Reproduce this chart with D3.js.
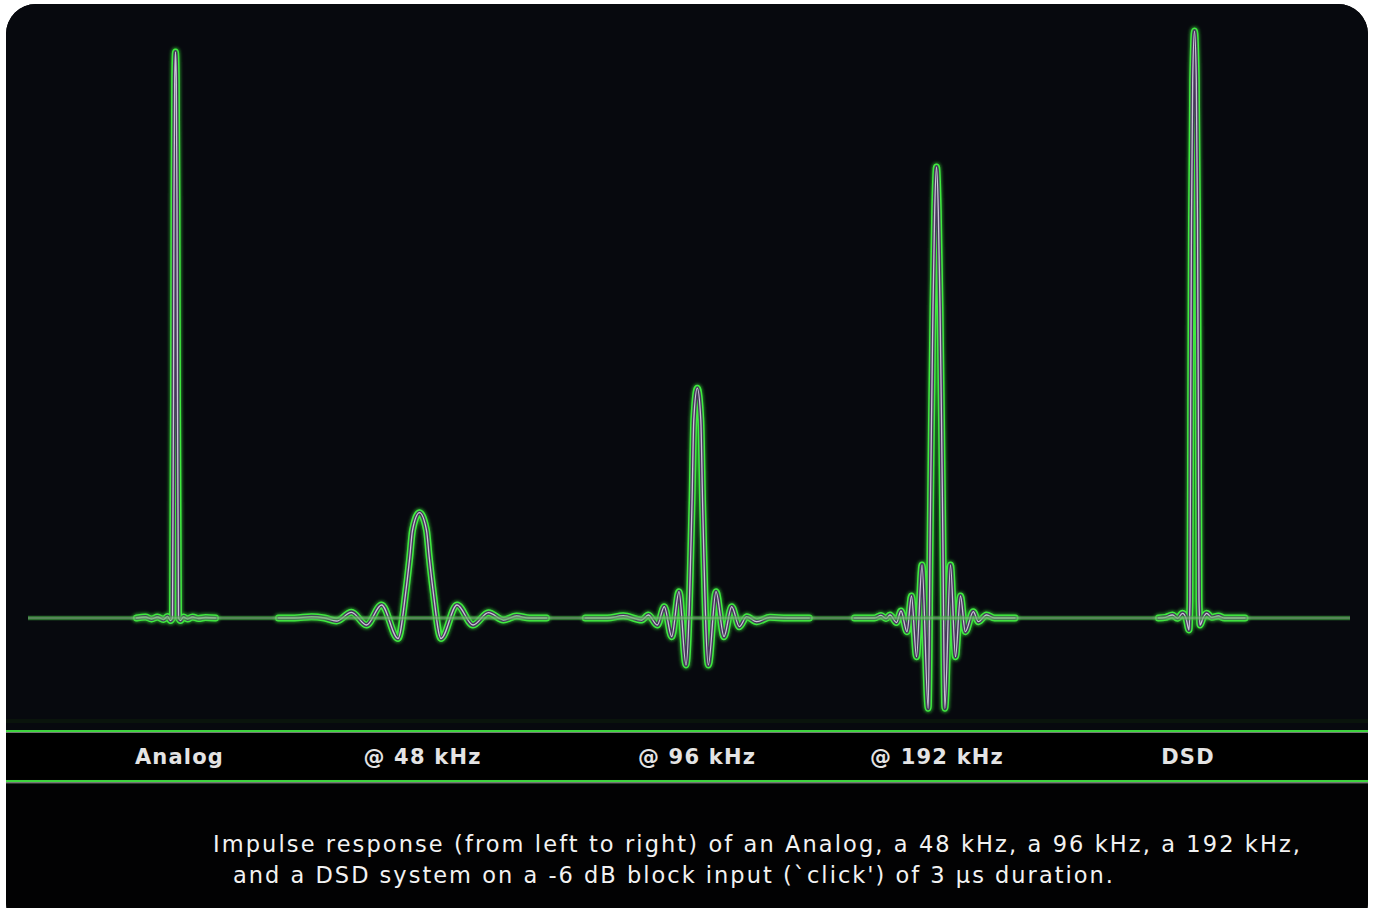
<!DOCTYPE html>
<html>
<head>
<meta charset="utf-8">
<script src="https://cdn.jsdelivr.net/npm/d3@7"></script>
<style>
	body { margin: 0; background: #ffffff; }
	svg { display: block; }
</style>
</head>
<body>
<script>
/* Labels under the plot. */
const systems = ['Analog', '@ 48 kHz', '@ 96 kHz', '@ 192 kHz', 'DSD'];
/* Where each label sits on the time axis. */
const labelTimes = [151.5, 394.5, 669, 909, 1160];
/* Time of each impulse peak (arbitrary time units). */
const centers = [147.5, 391.5, 669.3, 908.5, 1166.5];

/* Impulse responses: [time offset from peak, amplitude in % of analog peak]. */
const analog = [
	[-39, 0], [-30, 0.18], [-24, -0.18], [-18, 0.18], [-12, -0.27], [-8, 0.27], [-5, -0.44],
	[-3, 0], [-2, 38.5], [-1.5, 73.9], [-0.8, 95.1], [0, 100], [0.8, 95.1], [1.5, 73.9],
	[2, 38.5], [3, 0], [5, -0.44], [8, 0.18], [12, -0.18], [17, 0.18], [23, -0.09],
	[30, 0.09], [40, 0]
];
const rate48 = [
	[-141, 0], [-125, 0], [-108, 0.23], [-95, 0], [-83, -0.53], [-68, 1.0], [-53, -1.24],
	[-38, 2.3], [-21.5, -3.62], [-13.5, 4.95], [-9.7, 10.8], [-7, 15.5], [0, 18.6],
	[7, 15.5], [9.7, 10.8], [13.5, 4.95], [21.5, -3.62], [37.5, 2.3], [53.5, -1.24],
	[69, 0.94], [84, -0.35], [97, 0.35], [110, 0], [127, 0]
];
const rate96 = [
	[-112, 0], [-90, 0], [-74, 0.41], [-55.6, -0.35], [-49, 0.53], [-40, -1.24], [-33, 2.0],
	[-25.6, -3.3], [-18.3, 4.65], [-11.3, -8.3], [-5.3, 20.3], [-3.5, 35.0], [0, 40.6],
	[3.5, 35.0], [5.3, 20.3], [11, -8.3], [18.7, 4.65], [26.7, -3.3], [34.4, 2.0],
	[42, -1.54], [49.4, 0.23], [59.4, -0.65], [72.7, 0.12], [90, 0], [112, 0]
];
const rate192 = [
	[-82, 0], [-62, 0], [-55.5, 0.45], [-50.5, -0.1], [-46.5, 0.53], [-40, -0.8],
	[-35.5, 1.24], [-29.5, -2.42], [-25, 3.89], [-20, -6.84], [-14.5, 9.36], [-8.3, -15.95],
	[-6.3, 15], [-5, 35], [-3.5, 55], [-1.8, 72], [0, 79.7], [1.8, 72], [3.5, 55], [5, 35],
	[6.3, 15], [8.3, -15.95], [14, 9.36], [19, -6.84], [24, 3.89], [28.8, -2.42],
	[36.8, 1.11], [41.8, -0.65], [50, 0.53], [58, 0], [78.5, 0]
];
const dsd = [
	[-36, 0], [-29, 0.12], [-22, 0.53], [-17, -0.05], [-12, 0.83], [-8.5, 0], [-5.5, -2.12],
	[-4.5, 3.2], [-3.8, 38.5], [-3, 70.3], [-1.8, 95.1], [0, 103.7], [1.8, 95.1], [3, 70.3],
	[3.8, 38.5], [4.5, 3.2], [5.5, -1.24], [8.5, 0], [12.2, 0.83], [17.2, 0.12],
	[23.8, 0.35], [30, 0], [50.5, 0]
];
const responses = [analog, rate48, rate96, rate192, dsd];

/* Caption lines. */
const captionLines = [
	'Impulse response (from left to right) of an Analog, a 48 kHz, a 96 kHz, a 192 kHz,',
	'and a DSD system on a -6 dB block input (`click\') of 3 µs duration.'
];

/**
 * Draws the whole picture.
 */
function main() {
	const width = 1381;
	const height = 908;

	let svg = d3.select('body').append('svg')
		.attr('width', width)
		.attr('height', height);

	/* Glow for the green traces. */
	let defs = svg.append('defs');
	defs.append('filter')
			.attr('id', 'glow')
			.attr('x', '-50%').attr('y', '-50%')
			.attr('width', '200%').attr('height', '200%')
		.append('feGaussianBlur')
			.attr('stdDeviation', 1.6);
	defs.append('clipPath')
			.attr('id', 'panel-clip')
		.append('rect')
			.attr('x', 6).attr('y', 4)
			.attr('width', 1362).attr('height', 930)
			.attr('rx', 30).attr('ry', 30);

	/* Panel. */
	let panel = svg.append('g').attr('clip-path', 'url(#panel-clip)');
	panel.append('rect')
		.attr('x', 0).attr('y', 0)
		.attr('width', width).attr('height', height)
		.attr('fill', '#020203');
	panel.append('rect')
		.attr('x', 0).attr('y', 0)
		.attr('width', width).attr('height', 730)
		.attr('fill', '#07090e');
	panel.append('rect')
		.attr('x', 0).attr('y', 719)
		.attr('width', width).attr('height', 4)
		.attr('fill', '#0a140c');

	/* Scales. */
	let x = d3.scaleLinear().domain([0, 1322]).range([28, 1350]);
	let y = d3.scaleLinear().domain([0, 100]).range([618, 52]);

	let line = d3.line()
		.x(function(d) { return x(d[0]); })
		.y(function(d) { return y(d[1]); })
		.curve(d3.curveMonotoneX);

	let traces = responses.map(function(points, i) {
		return points.map(function(p) { return [centers[i] + p[0], p[1]]; });
	});

	/* Traces: green tube with a dark core and a light centre. */
	let layers = [
		{ color: '#3cff3c', width: 9, opacity: 0.5, filter: 'url(#glow)' },
		{ color: '#40ea40', width: 7, opacity: 1 },
		{ color: '#45385a', width: 4, opacity: 1 },
		{ color: '#cbc3d6', width: 1.3, opacity: 1 }
	];
	for (let layer of layers) {
		panel.append('g')
			.selectAll('path')
				.data(traces)
			.enter().append('path')
				.attr('d', line)
				.attr('fill', 'none')
				.attr('stroke', layer.color)
				.attr('stroke-width', layer.width)
				.attr('stroke-opacity', layer.opacity)
				.attr('stroke-linejoin', 'round')
				.attr('stroke-linecap', 'round')
				.attr('filter', layer.filter || null);
	}

	/* Zero line on top. */
	let zero = d3.line()
		.x(function(d) { return x(d); })
		.y(function() { return y(0); });
	panel.append('path')
		.attr('d', zero(x.domain()))
		.attr('fill', 'none')
		.attr('stroke', '#46b446')
		.attr('stroke-width', 4.5)
		.attr('stroke-opacity', 0.6);
	panel.append('path')
		.attr('d', zero(x.domain()))
		.attr('fill', 'none')
		.attr('stroke', '#a6b0a6')
		.attr('stroke-width', 1.2)
		.attr('stroke-opacity', 0.7);

	/* Label band. */
	for (let yy of [731, 781]) {
		panel.append('line')
			.attr('x1', 0).attr('x2', width)
			.attr('y1', yy).attr('y2', yy)
			.attr('stroke', '#3ed43e')
			.attr('stroke-width', 2.2);
		panel.append('line')
			.attr('x1', 0).attr('x2', width)
			.attr('y1', yy + 1.8).attr('y2', yy + 1.8)
			.attr('stroke', '#b8c0b8')
			.attr('stroke-width', 0.9);
	}
	panel.append('rect')
		.attr('x', 0).attr('y', 733)
		.attr('width', width).attr('height', 46)
		.attr('fill', '#000000');

	panel.selectAll('.label')
			.data(systems)
		.enter().append('text')
			.attr('class', 'label')
			.attr('x', function(_, i) { return x(labelTimes[i]); })
			.attr('y', 764)
			.attr('text-anchor', 'middle')
			.attr('font-family', 'DejaVu Sans, Verdana, sans-serif')
			.attr('font-weight', 'bold')
			.attr('font-size', 21)
			.attr('letter-spacing', 1.2)
			.attr('fill', '#e4e4e4')
			.text(function(d) { return d; });

	/* Caption. */
	let captionBox = [[213, 852, 1087], [233, 883, 880]];
	panel.selectAll('.caption')
			.data(captionLines)
		.enter().append('text')
			.attr('class', 'caption')
			.attr('x', function(_, i) { return captionBox[i][0]; })
			.attr('y', function(_, i) { return captionBox[i][1]; })
			.attr('textLength', function(_, i) { return captionBox[i][2]; })
			.attr('lengthAdjust', 'spacing')
			.attr('font-family', 'DejaVu Sans, Verdana, sans-serif')
			.attr('font-size', 22.5)
			.attr('fill', '#f2f2f2')
			.text(function(d) { return d; });
}

window.onload = function() {
	main();
};
</script>
</body>
</html>
